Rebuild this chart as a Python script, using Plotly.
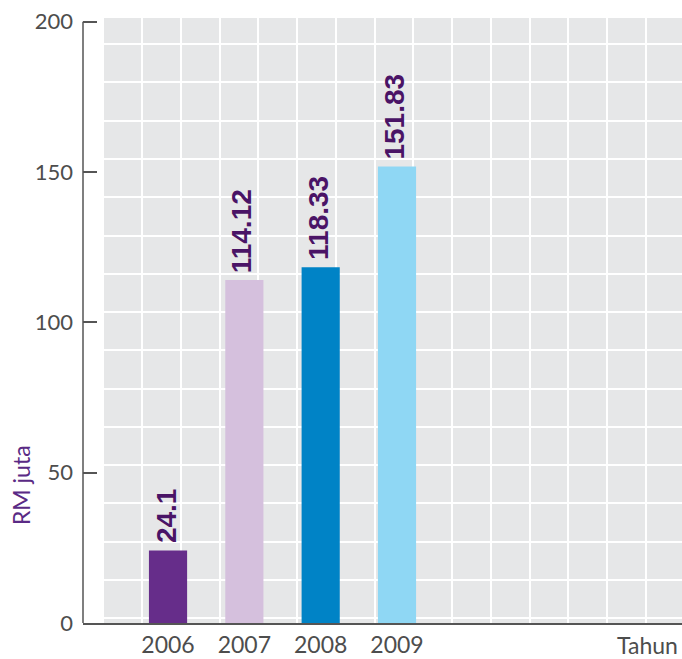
import plotly.graph_objects as go

years = [2006, 2007, 2008, 2009]
year_labels = ["2006", "2007", "2008", "2009"]
values = [24.1, 114.12, 118.33, 151.83]
value_labels = ["24.1", "114.12", "118.33", "151.83"]
bar_colors = ["#662d8a", "#d5c0dd", "#0083c6", "#8fd7f4"]
y_ticks = [0, 50, 100, 150, 200]
y_title = "RM juta"
x_title = "Tahun"

AXIS_COLOR = "#555555"
TEXT_COLOR = "#4d4d4d"
BG_GRAY = "#e6e7e8"
LABEL_COLOR = "#4a1466"

fig = go.Figure()
fig.add_trace(go.Bar(
    x=years, y=values, width=0.5,
    marker=dict(color=bar_colors, line=dict(width=0)),
    hoverinfo="skip",
))

annotations = []
for x, v, t in zip(years, values, value_labels):
    annotations.append(dict(
        x=x, y=v, xref="x", yref="y", text="<b>" + t + "</b>", showarrow=False,
        textangle=-90, xanchor="center", yanchor="bottom", yshift=5, xshift=-2,
        font=dict(family="Liberation Sans", size=28, color=LABEL_COLOR),
    ))
annotations.append(dict(
    x=1, y=0, xref="paper", yref="paper", text=x_title, showarrow=False,
    xanchor="right", yanchor="top", yshift=-6, xshift=-2,
    font=dict(family="Lato", size=23, color=TEXT_COLOR),
))
annotations.append(dict(
    x=-0.1035, y=0.228, xref="paper", yref="paper", text=y_title, showarrow=False,
    textangle=-90, xanchor="center", yanchor="middle",
    font=dict(family="Lato", size=23, color="#5a2a85"),
))

shapes = [
    dict(type="rect", xref="paper", yref="paper", x0=0.0351, x1=1, y0=0, y1=1,
         fillcolor=BG_GRAY, line=dict(width=0), layer="below"),
    dict(type="line", xref="paper", yref="y", x0=0, x1=0, y0=0, y1=max(y_ticks),
         line=dict(color=AXIS_COLOR, width=1.5), layer="above"),
]

fig.update_layout(
    width=682, height=659,
    margin=dict(l=83, r=0, t=18, b=36, pad=0, autoexpand=False),
    plot_bgcolor="white", paper_bgcolor="white",
    showlegend=False,
    annotations=annotations,
    shapes=shapes,
    xaxis=dict(
        range=[2004.886, 2012.734],
        automargin=False,
        tickvals=years, ticktext=year_labels,
        tickfont=dict(family="Lato", size=23, color=TEXT_COLOR),
        showgrid=False, zeroline=False, ticks="",
        showline=True, linecolor=AXIS_COLOR, linewidth=1.5,
        minor=dict(tick0=2005.659, dtick=0.5079, showgrid=True,
                   gridcolor="white", gridwidth=2, ticks=""),
        ticklabelstandoff=1,
    ),
    yaxis=dict(
        range=[0, 201.26],
        automargin=False,
        tickvals=y_ticks,
        tickfont=dict(family="Lato", size=22, color=TEXT_COLOR),
        showgrid=False, zeroline=False,
        ticks="inside", ticklen=14, tickwidth=1.5, tickcolor=AXIS_COLOR,
        showline=False,
        minor=dict(tick0=14.33, dtick=12.73, showgrid=True,
                   gridcolor="white", gridwidth=2, ticks=""),
        ticklabelstandoff=9,
    ),
)

fig.write_html(
    "out.html",
    config={"displayModeBar": False},
    post_script="document.body.style.margin='0';document.body.style.overflow='hidden';",
)
